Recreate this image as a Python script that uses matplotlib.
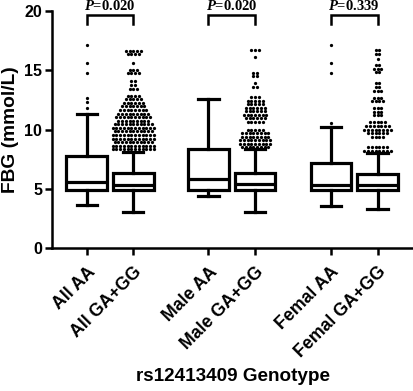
import numpy as np
import matplotlib
matplotlib.use("Agg")
import matplotlib.pyplot as plt

plt.rcParams['font.family'] = 'Liberation Sans'
plt.rcParams['font.weight'] = 'bold'
plt.rcParams['mathtext.fontset'] = 'custom'
plt.rcParams['mathtext.it'] = 'Liberation Serif:italic:bold'
plt.rcParams['mathtext.rm'] = 'Liberation Serif:bold'

# groups and box statistics (mmol/L)
groups = ["All AA", "All GA+GG", "Male AA", "Male GA+GG", "Femal AA", "Femal GA+GG"]
q1 = [4.95, 4.95, 4.92, 4.90, 4.88, 4.88]
med = [5.62, 5.35, 5.84, 5.38, 5.35, 5.33]
q3 = [7.80, 6.32, 8.34, 6.37, 7.16, 6.26]
whislo = [3.65, 3.08, 4.41, 3.08, 3.59, 3.29]
whishi = [11.34, 8.14, 12.6, 8.34, 10.19, 8.05]

# outliers: (value, number of points at that level)
out_all_aa = [(17.15, 1), (15.6, 1), (14.8, 1), (12.63, 1), (12.3, 1), (11.8, 1)]
out_all_ga = [(16.65, 5), (16.4, 4), (15.6, 1), (15.0, 3), (14.75, 4), (14.1, 2),
              (13.8, 2), (13.45, 3), (12.85, 4), (12.55, 5), (12.25, 6), (11.95, 7),
              (11.65, 8), (11.35, 9), (11.05, 10), (10.75, 9), (10.45, 11), (10.15, 12),
              (9.85, 11), (9.55, 12), (9.25, 12), (8.95, 11), (8.65, 12), (8.35, 12)]
out_male_aa = []
out_male_ga = [(16.7, 3), (16.1, 1), (14.8, 2), (14.55, 2), (13.9, 1), (13.6, 2),
               (12.75, 3), (12.45, 5), (12.15, 5), (11.85, 6), (11.55, 6), (11.25, 7),
               (10.95, 6), (10.65, 5), (10.0, 5), (9.7, 8), (9.4, 8), (9.1, 9),
               (8.8, 9), (8.5, 8)]
out_fem_aa = [(17.13, 1), (15.58, 1), (14.8, 1), (10.58, 1)]
out_fem_ga = [(16.7, 2), (16.35, 2), (15.95, 1), (15.45, 2), (15.1, 3), (14.85, 2),
              (13.95, 2), (13.55, 2), (13.25, 3), (12.7, 3), (12.4, 4), (11.85, 3),
              (11.5, 3), (11.2, 3), (10.6, 5), (10.3, 7), (10.0, 8), (9.7, 6),
              (9.4, 4), (8.5, 6), (8.2, 8)]
outliers = [out_all_aa, out_all_ga, out_male_aa, out_male_ga, out_fem_aa, out_fem_ga]

p_labels = ["0.020", "0.020", "0.339"]

pos = np.array([0, 1, 2.61, 3.61, 5.23, 6.23])
lw = 2.3

fig = plt.figure(figsize=(4.13, 3.91), dpi=100)
ax = fig.add_axes([0.126, 0.365, 0.874, 0.607])

stats = []
for i in range(len(groups)):
    stats.append(dict(med=med[i], q1=q1[i], q3=q3[i], whislo=whislo[i],
                      whishi=whishi[i], fliers=[]))

ax.bxp(stats, positions=pos, widths=0.87, showfliers=False, patch_artist=True,
       boxprops=dict(facecolor='white', edgecolor='black', linewidth=lw),
       medianprops=dict(color='black', linewidth=lw),
       whiskerprops=dict(color='black', linewidth=lw),
       capprops=dict(color='black', linewidth=lw), capwidths=0.43)

dx = 0.08
for x0, levels in zip(pos, outliers):
    xs, ys = [], []
    for v, n in levels:
        offs = (np.arange(n) - (n - 1) / 2) * dx
        xs.extend(x0 + offs)
        ys.extend([v] * n)
    ax.scatter(xs, ys, s=5.5, color='black', zorder=3, linewidths=0)

# significance brackets
for k, p in enumerate(p_labels):
    a, b = pos[2 * k], pos[2 * k + 1]
    ax.plot([a, a, b, b], [18.9, 19.65, 19.65, 18.9], color='black', lw=1.8,
            clip_on=False, solid_joinstyle='miter')
    ax.text((a + b) / 2, 19.85, "$P$=" + p, ha='center', va='bottom',
            fontsize=10.5, family='Liberation Serif', weight='bold', clip_on=False)

ax.set_xlim(-0.74, 6.99)
ax.set_ylim(0, 20)
ax.set_yticks([0, 5, 10, 15, 20])
ax.set_xticks(pos)
ax.set_xticklabels(groups, rotation=45, ha='right', rotation_mode='anchor')
ax.tick_params(axis='both', width=1.8, length=5, labelsize=11.5, pad=2)
ax.tick_params(axis='x', pad=6, labelsize=12.8)
for s in ['top', 'right']:
    ax.spines[s].set_visible(False)
for s in ['left', 'bottom']:
    ax.spines[s].set_linewidth(1.8)

ax.set_ylabel("FBG (mmol/L)", fontsize=13.8, weight='bold', labelpad=4)
ax.set_xlabel("rs12413409 Genotype", fontsize=13.6, weight='bold')
ax.xaxis.set_label_coords(0.5, -0.505)

fig.savefig("out.png", dpi=100)
